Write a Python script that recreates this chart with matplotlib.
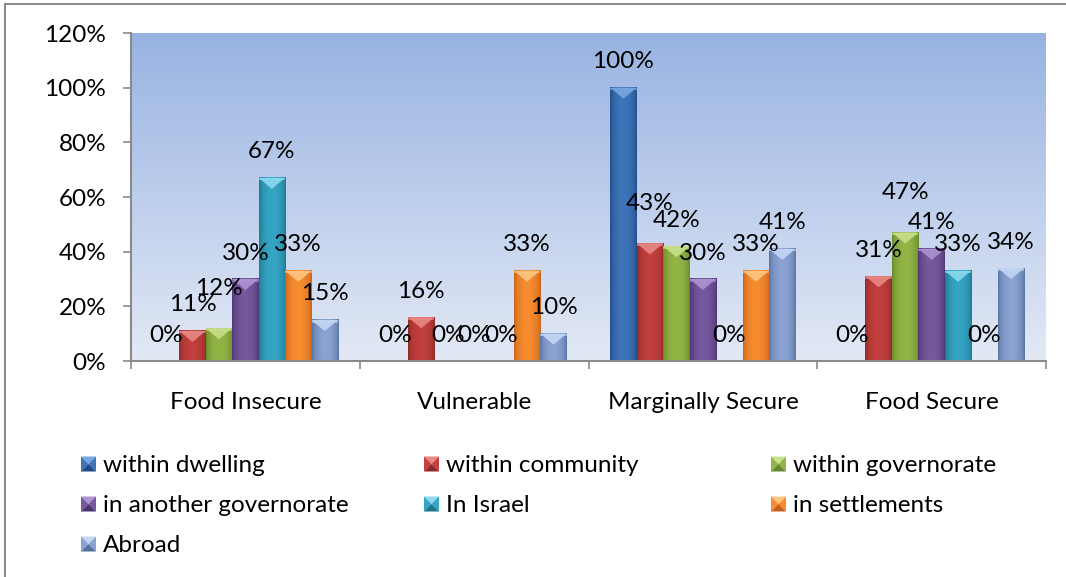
import numpy as np
import matplotlib
matplotlib.use("Agg")
import matplotlib.pyplot as plt
from matplotlib.patches import Polygon
from matplotlib.lines import Line2D
from matplotlib.colors import to_rgb

# ---- data -------------------------------------------------------------
categories = ["Food Insecure", "Vulnerable", "Marginally Secure", "Food Secure"]
series_names = ["within dwelling", "within community", "within governorate",
                "in another governorate", "In Israel", "in settlements", "Abroad"]
within_dwelling = [0, 0, 100, 0]
within_community = [11, 16, 43, 31]
within_governorate = [12, 0, 42, 47]
another_governorate = [30, 0, 30, 41]
in_israel = [67, 0, 0, 33]
in_settlements = [33, 33, 33, 0]
abroad = [15, 10, 41, 34]
y_ticks = [0, 20, 40, 60, 80, 100, 120]

series_values = [within_dwelling, within_community, within_governorate,
                 another_governorate, in_israel, in_settlements, abroad]

# (edge shade, centre shade, bevel highlight) per series
palette = [
    ("#1f4b88", "#3f74b8", "#78a6e0"),
    ("#8c2826", "#c2403d", "#e88884"),
    ("#66862a", "#93b546", "#c8e08a"),
    ("#4b356e", "#76589f", "#ae92d4"),
    ("#1c7590", "#35a5c3", "#8ad9ee"),
    ("#c4611a", "#f78c2f", "#fcc582"),
    ("#5670a0", "#8aa3d2", "#c4d6f4"),
]

plt.rcParams["font.family"] = ["Lato", "DejaVu Sans"]
FS = 17.5

W, H = 1066, 577
fig = plt.figure(figsize=(W / 100, H / 100), dpi=100)
left_px, right_px, top_px, bottom_px = 131, 1046, 33, 361
ax = fig.add_axes([left_px / W, 1 - bottom_px / H,
                   (right_px - left_px) / W, (bottom_px - top_px) / H])

y_max = 120
px_per_unit = (bottom_px - top_px) / y_max

# plot-area gradient background
grad = np.linspace(0, 1, 256)[:, None]
top_c = np.array(to_rgb("#98b3e2"))
bot_c = np.array(to_rgb("#e3e9f5"))
bg = (top_c[None, None, :] * (1 - grad[..., None]) + bot_c[None, None, :] * grad[..., None])
ax.imshow(bg, extent=(0, 1, 0, 1), transform=ax.transAxes, aspect="auto",
          zorder=0, interpolation="bilinear")

n_series = len(series_values)
bar_w = 0.1157
x = np.arange(len(categories))


def shade_row(edge, centre, n=64):
    t = np.linspace(0, 1, n)
    wgt = np.sin(np.pi * t) ** 0.55
    e, c = np.array(to_rgb(edge)), np.array(to_rgb(centre))
    return (e[None, :] * (1 - wgt[:, None]) + c[None, :] * wgt[:, None])[None, :, :]


bevel_h = 11 / px_per_unit
for s, vals in enumerate(series_values):
    edge, centre, light = palette[s]
    xs = x + (s - (n_series - 1) / 2) * bar_w
    bars = ax.bar(xs, vals, width=bar_w, color=centre, zorder=2, linewidth=0)
    for p in bars:
        h = p.get_height()
        if h <= 0:
            continue
        x0, w = p.get_x(), p.get_width()
        ax.imshow(shade_row(edge, centre), extent=(x0, x0 + w, 0, h),
                  aspect="auto", zorder=3, interpolation="bilinear")
        ax.add_patch(Polygon([(x0, h), (x0 + w, h), (x0 + w / 2, h - bevel_h)],
                             closed=True, facecolor=light, edgecolor="none",
                             alpha=0.9, zorder=4))
        ax.add_patch(Polygon([(x0, h), (x0 + w, h), (x0 + w, h - 2.5 / px_per_unit),
                              (x0, h - 2.5 / px_per_unit)],
                             closed=True, facecolor=light, edgecolor="none",
                             alpha=0.6, zorder=4))

# data labels, nudging a label upward when it would collide with a neighbour
label_gap_px = 26
for c in range(len(categories)):
    vals = [series_values[s][c] for s in range(n_series)]
    lift = [0.0] * n_series
    for s in range(n_series - 1):
        a, b = vals[s], vals[s + 1]
        if a != b and abs(a - b) * px_per_unit < 18:
            lift[s if a > b else s + 1] = 14
    for s in range(n_series):
        xs = x[c] + (s - (n_series - 1) / 2) * bar_w
        off_px = label_gap_px + lift[s]
        ax.annotate(f"{vals[s]}%", xy=(xs, vals[s]), xytext=(0, off_px * 0.72),
                    textcoords="offset points", ha="center", va="center",
                    fontsize=FS, color="black", zorder=6)

ax.set_xlim(-0.5, len(categories) - 0.5)
ax.set_ylim(0, y_max)

axis_grey = "#8a8a8a"
for side in ("top", "right"):
    ax.spines[side].set_visible(False)
for side in ("left", "bottom"):
    ax.spines[side].set_color(axis_grey)
    ax.spines[side].set_linewidth(1.5)
    ax.spines[side].set_zorder(5)

ax.set_yticks(y_ticks)
ax.set_yticklabels([f"{t}%" for t in y_ticks], fontsize=FS)
ax.tick_params(axis="y", length=5.8, width=1.2, color=axis_grey, pad=12)

ax.set_xticks(x)
ax.set_xticklabels(categories, fontsize=FS)
ax.set_xticks(np.arange(-0.5, len(categories), 1.0), minor=True)
ax.tick_params(axis="x", which="major", length=0, pad=22)
ax.tick_params(axis="x", which="minor", length=5.8, width=1.2, color=axis_grey)

# legend: bevelled squares in three columns
col_x = [81, 424, 771]
row_y = [464, 504, 544]
sq = 15
for i, name in enumerate(series_names):
    edge, centre, light = palette[i]
    cx, cy = col_x[i % 3], row_y[i // 3]
    X0, X1 = cx / W, (cx + sq) / W
    Yt, Yb = 1 - (cy - sq / 2) / H, 1 - (cy + sq / 2) / H
    Xm, Ym = (X0 + X1) / 2, (Yt + Yb) / 2
    faces = [
        ([(X0, Yt), (X1, Yt), (Xm, Ym)], light),
        ([(X0, Yt), (X0, Yb), (Xm, Ym)], centre),
        ([(X1, Yt), (X1, Yb), (Xm, Ym)], centre),
        ([(X0, Yb), (X1, Yb), (Xm, Ym)], edge),
    ]
    for pts, col in faces:
        fig.add_artist(Polygon(pts, closed=True, transform=fig.transFigure,
                               facecolor=col, edgecolor="none"))
    fig.text((cx + 22) / W, 1 - cy / H, name, fontsize=FS, ha="left",
             va="center_baseline")

# chart frame
frame = "#8c8c8c"
fig.add_artist(Line2D([5 / W, 5 / W], [0, 1 - 4 / H], transform=fig.transFigure,
                      color=frame, lw=1.5))
fig.add_artist(Line2D([5 / W, 1], [1 - 4 / H, 1 - 4 / H], transform=fig.transFigure,
                      color=frame, lw=1.5))

fig.savefig("out.png", dpi=100)
